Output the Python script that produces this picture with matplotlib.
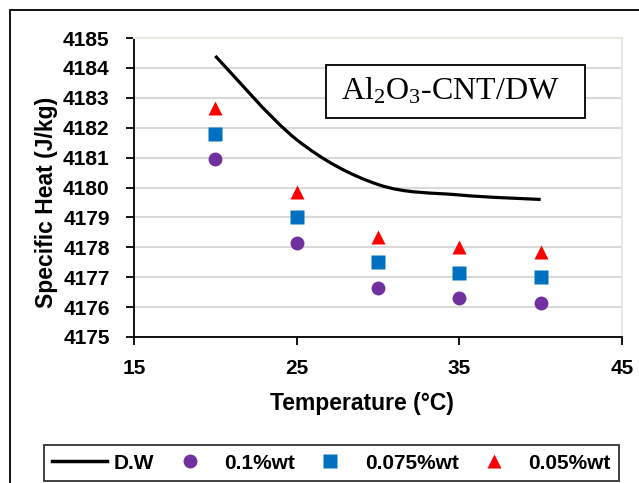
import matplotlib
matplotlib.use("Agg")
import matplotlib.pyplot as plt
import numpy as np
from matplotlib.path import Path
from matplotlib.patches import PathPatch, Rectangle
from matplotlib.lines import Line2D

# temperatures (C) and specific heat (J/kg)
temps = [20, 25, 30, 35, 40]
cp_dw = [4184.4, 4181.6, 4180.1, 4179.75, 4179.6]
cp_01 = [4180.95, 4178.15, 4176.65, 4176.3, 4176.15]
cp_0075 = [4181.8, 4179.0, 4177.5, 4177.15, 4177.0]
cp_005 = [4182.65, 4179.85, 4178.35, 4178.0, 4177.85]

plt.rcParams['font.family'] = ['Liberation Sans', 'DejaVu Sans']
plt.rcParams['mathtext.fontset'] = 'custom'
plt.rcParams['mathtext.rm'] = 'Liberation Serif'
plt.rcParams['mathtext.it'] = 'Liberation Serif:italic'
plt.rcParams['mathtext.bf'] = 'Liberation Serif:bold'

fig = plt.figure(figsize=(6.39, 4.83), dpi=100)
ax = fig.add_axes([0.2097, 0.3023, 0.7637, 0.619])

# smooth line like excel (bezier through the points)
pts = np.column_stack([temps, cp_dw])
verts = [tuple(pts[0])]
codes = [Path.MOVETO]
n = len(pts)
for i in range(n - 1):
    p0 = pts[max(i - 1, 0)]
    p1 = pts[i]
    p2 = pts[i + 1]
    p3 = pts[min(i + 2, n - 1)]
    c1 = p1 + (p2 - p0) / 6.0
    c2 = p2 - (p3 - p1) / 6.0
    verts += [tuple(c1), tuple(c2), tuple(p2)]
    codes += [Path.CURVE4] * 3
ax.add_patch(PathPatch(Path(verts, codes), fill=False, lw=2.3, ec='black',
                       capstyle='butt', zorder=3))

ax.plot(temps, cp_01, 'o', color='#7030A0', ms=10, mec='none', zorder=4)
ax.plot(temps, cp_0075, 's', color='#0070C0', ms=9.5, mec='none', zorder=4)
ax.plot(temps, cp_005, '^', color='#FF0000', ms=10.5, mec='none', zorder=4)

ax.set_xlim(15, 45)
ax.set_ylim(4175, 4185)
ax.set_xticks([15, 25, 35, 45])
ax.set_yticks(np.arange(4175, 4186, 1))
ax.yaxis.grid(True, color='#D9D9D9', lw=1.5)
ax.set_axisbelow(True)
for s in ['top', 'right']:
    ax.spines[s].set_color('#E8E8E0')
    ax.spines[s].set_linewidth(1.5)
for s in ['left', 'bottom']:
    ax.spines[s].set_color('black')
    ax.spines[s].set_linewidth(1.3)
ax.tick_params(axis='y', length=6, width=1.3, pad=11.5)
ax.tick_params(axis='x', length=6, width=1.3, pad=10)
for lab in ax.get_xticklabels() + ax.get_yticklabels():
    lab.set_fontsize(15)
    lab.set_fontweight('bold')
ax.set_xlabel('Temperature (°C)', fontsize=16.5, fontweight='bold')
ax.set_ylabel('Specific Heat (J/kg)', fontsize=16.5, fontweight='bold')
ax.xaxis.set_label_coords(0.467, -0.184)
ax.yaxis.set_label_coords(-0.156, 0.45)

# title box inside the plot
ax.add_patch(Rectangle((0.393, 0.732), 0.531, 0.178, transform=ax.transAxes,
                       fc='white', ec='black', lw=1.3, zorder=5))
ax.text(0.648, 0.793, r'Al$_2$O$_3$-CNT/DW', transform=ax.transAxes,
        family='Liberation Serif', fontsize=23,
        ha='center', va='baseline', zorder=6)

handles = [
    Line2D([], [], color='black', lw=2.5),
    Line2D([], [], marker='o', ls='none', color='#7030A0', ms=10, mec='none'),
    Line2D([], [], marker='s', ls='none', color='#0070C0', ms=9.5, mec='none'),
    Line2D([], [], marker='^', ls='none', color='#FF0000', ms=10.5, mec='none'),
]
labels = ['D.W', '0.1%wt', '0.075%wt', '0.05%wt']
leg = fig.legend(handles, labels, loc='lower left',
                 bbox_to_anchor=(44 / 639, 2 / 483),
                 ncol=4, frameon=True, fancybox=False,
                 prop={'weight': 'bold', 'size': 15},
                 handlelength=2.6, handletextpad=0.35, borderaxespad=0,
                 columnspacing=0.4)
leg.get_frame().set_edgecolor('black')
leg.get_frame().set_linewidth(1.3)

# outer chart border
fig.patches.append(Rectangle((10 / 639, -0.05), 1.1, 1 - 10 / 483 + 0.05,
                             transform=fig.transFigure, fill=False,
                             ec='black', lw=1.3))

fig.savefig('out.png', dpi=100)
